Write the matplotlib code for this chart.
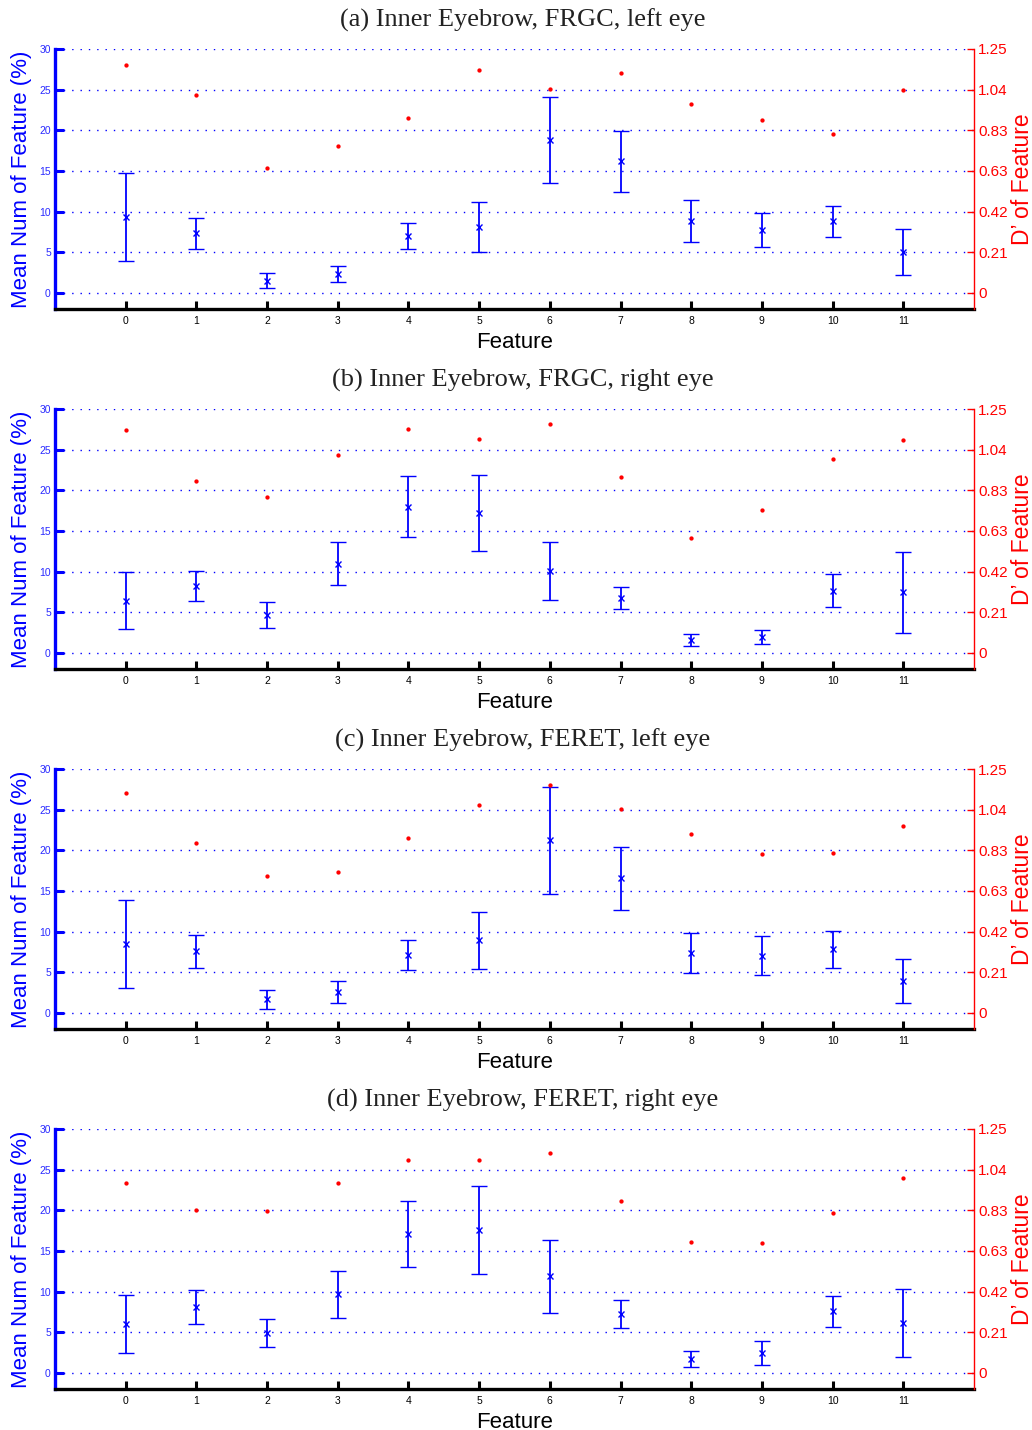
import numpy as np
import matplotlib
matplotlib.use("Agg")
import matplotlib.pyplot as plt

plt.rcParams["font.family"] = ["Liberation Sans", "DejaVu Sans"]

features = list(range(12))

titles = [
    "(a) Inner Eyebrow, FRGC, left eye",
    "(b) Inner Eyebrow, FRGC, right eye",
    "(c) Inner Eyebrow, FERET, left eye",
    "(d) Inner Eyebrow, FERET, right eye",
]

# Mean number of feature (%) and its standard deviation, per panel
mean_a = [9.30, 7.30, 1.48, 2.30, 6.97, 8.07, 18.81, 16.19, 8.81, 7.75, 8.77, 5.00]
std_a = [5.43, 1.90, 0.89, 0.97, 1.62, 3.05, 5.25, 3.75, 2.60, 2.07, 1.86, 2.79]
dprime_a = [1.166, 1.016, 0.640, 0.755, 0.898, 1.141, 1.047, 1.127, 0.970, 0.888, 0.816, 1.038]

mean_b = [6.43, 8.20, 4.63, 10.94, 17.99, 17.17, 10.08, 6.76, 1.52, 1.97, 7.66, 7.42]
std_b = [3.55, 1.89, 1.60, 2.65, 3.75, 4.70, 3.57, 1.37, 0.74, 0.86, 2.00, 4.94]
dprime_b = [1.141, 0.879, 0.797, 1.014, 1.146, 1.095, 1.173, 0.900, 0.589, 0.733, 0.996, 1.093]

mean_c = [8.49, 7.55, 1.64, 2.54, 7.14, 8.90, 21.21, 16.54, 7.35, 7.02, 7.80, 3.94]
std_c = [5.44, 2.07, 1.13, 1.36, 1.83, 3.50, 6.61, 3.90, 2.47, 2.42, 2.26, 2.69]
dprime_c = [1.127, 0.870, 0.701, 0.722, 0.894, 1.065, 1.166, 1.045, 0.915, 0.812, 0.821, 0.957]

mean_d = [6.00, 8.06, 4.89, 9.66, 17.06, 17.55, 11.88, 7.23, 1.73, 2.38, 7.56, 6.12]
std_d = [3.56, 2.08, 1.75, 2.88, 4.07, 5.45, 4.52, 1.71, 0.97, 1.48, 1.93, 4.14]
dprime_d = [0.974, 0.837, 0.829, 0.971, 1.093, 1.089, 1.125, 0.879, 0.671, 0.666, 0.820, 1.000]

left_ticks = [0, 5, 10, 15, 20, 25, 30]
right_tick_labels = ["0", "0.21", "0.42", "0.63", "0.83", "1.04", "1.25"]

panels = [
    (mean_a, std_a, dprime_a),
    (mean_b, std_b, dprime_b),
    (mean_c, std_c, dprime_c),
    (mean_d, std_d, dprime_d),
]

W, H = 1032, 1430
fig = plt.figure(figsize=(W / 100, H / 100), dpi=100)

ax_left_px, ax_right_px = 55, 974
ax_top0, ax_bot0 = 49, 309
step = 360

for i, ((mean, std, dp), title) in enumerate(zip(panels, titles)):
    top = ax_top0 + i * step
    bot = ax_bot0 + i * step
    ax = fig.add_axes([ax_left_px / W, 1 - bot / H,
                       (ax_right_px - ax_left_px) / W, (bot - top) / H])
    ax.set_xlim(-1, 12)
    ax.set_ylim(-2, 30)

    ax.grid(axis="y", color="blue", linestyle=(0, (1, 5)), linewidth=1.0)
    ax.set_axisbelow(True)

    ax.errorbar(features, mean, yerr=std, fmt="x", color="blue",
                ecolor="blue", elinewidth=1.3, capsize=5.5, capthick=1.3,
                markersize=5, markeredgewidth=1.0, zorder=3)

    ax.set_xticks(features)
    ax.set_yticks(left_ticks)
    ax.tick_params(axis="x", direction="in", length=6, width=2.2,
                   colors="black", labelsize=7.5, pad=5)
    ax.tick_params(axis="y", direction="in", length=6.5, width=2.2,
                   colors="blue", labelsize=7.5, pad=3)
    for lab in ax.get_yticklabels():
        lab.set_color("#2a2aff")

    ax.spines["top"].set_visible(False)
    ax.spines["right"].set_visible(False)
    ax.spines["left"].set_color("blue")
    ax.spines["left"].set_linewidth(2.4)
    ax.spines["bottom"].set_color("black")
    ax.spines["bottom"].set_linewidth(2.4)

    ax.set_xlabel("Feature", fontsize=16, color="black", labelpad=4)
    ax.set_ylabel("Mean Num of Feature (%)", fontsize=16, color="blue",
                  labelpad=5)
    ttl = ax.set_title(title, fontsize=19, family="Liberation Serif",
                       color="#222222", pad=16)
    ttl.set_x(0.5 + 8 / (ax_right_px - ax_left_px))

    ax2 = ax.twinx()
    ax2.set_ylim(-1.25 * 2 / 30, 1.25)
    ax2.plot(features, dp, "o", color="red", markersize=3.1,
             markeredgewidth=0, zorder=4)
    ax2.set_yticks(np.linspace(0, 1.25, 7))
    ax2.set_yticklabels(right_tick_labels)
    ax2.tick_params(axis="y", direction="in", length=5, width=1,
                    colors="red", labelsize=11, pad=3)
    for side in ("top", "left", "bottom"):
        ax2.spines[side].set_visible(False)
    ax2.spines["right"].set_color("red")
    ax2.spines["right"].set_linewidth(1.0)
    ax2.set_ylabel("D\u2019 of Feature", fontsize=16.5, color="red", labelpad=2)

fig.savefig("out.png", dpi=100)
